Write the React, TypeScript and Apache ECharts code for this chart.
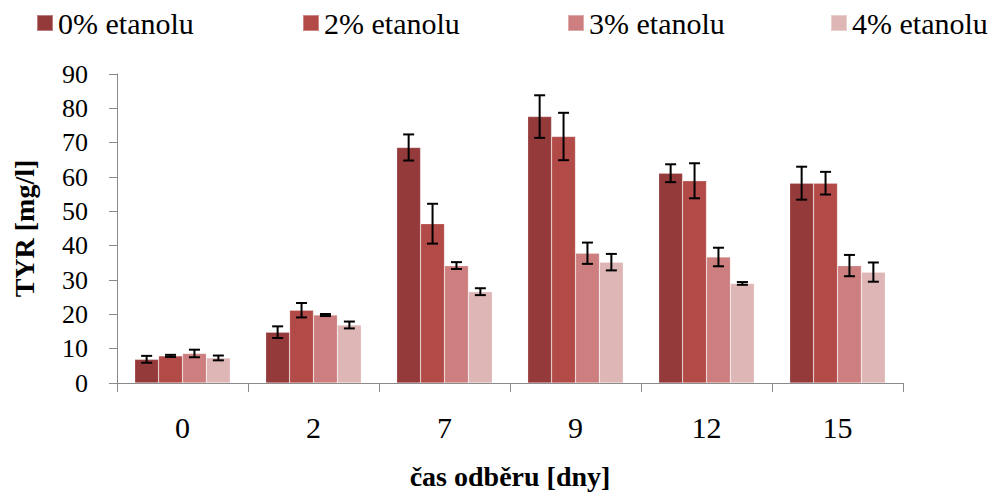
import React, { useEffect, useRef } from "react";
import * as echarts from "echarts";

const days = ["0", "2", "7", "9", "12", "15"];
const seriesNames = ["0% etanolu", "2% etanolu", "3% etanolu", "4% etanolu"];
const colors = ["#953A3A", "#B24A48", "#CC7F7E", "#DFB6B6"];

const tyr0 = [6.9, 14.8, 68.6, 77.6, 61.1, 58.2];
const tyr2 = [7.9, 21.2, 46.4, 71.8, 58.9, 58.2];
const tyr3 = [8.6, 19.8, 34.2, 37.8, 36.7, 34.2];
const tyr4 = [7.3, 16.9, 26.6, 35.2, 29.0, 32.3];

const err0 = [1.0, 1.7, 3.8, 6.2, 2.6, 4.8];
const err2 = [0.3, 2.1, 5.8, 6.9, 5.1, 3.3];
const err3 = [1.1, 0.3, 1.0, 3.1, 2.7, 3.1];
const err4 = [0.7, 1.0, 1.0, 2.4, 0.4, 2.8];

const yTicks = [0, 10, 20, 30, 40, 50, 60, 70, 80, 90];

const values = [tyr0, tyr2, tyr3, tyr4];
const errors = [err0, err2, err3, err4];

const GAP = 0.27;
const FONT = "Liberation Serif";
const W = 995;
const H = 497;
const legendLefts = [36, 302, 567, 830];

export default function App() {
  const ref = useRef<HTMLDivElement>(null);

  useEffect(() => {
    if (!ref.current) return;
    const chart = echarts.init(ref.current, null, { renderer: "svg", width: W, height: H });

    const barSeries = values.map((vals, i) => ({
      name: seriesNames[i],
      type: "bar",
      data: vals,
      barGap: "0%",
      barCategoryGap: GAP * 100 + "%",
      itemStyle: { color: colors[i], borderColor: "rgba(255,255,255,0.35)", borderWidth: 0.6 },
      z: 2,
    }));

    // error bars drawn centred on each bar of the group
    const errSeries = values.map((vals, i) => ({
      name: "err" + i,
      type: "custom",
      z: 5,
      silent: true,
      data: vals.map((v, k) => [k, v, errors[i][k]]),
      renderItem: (params: any, api: any) => {
        const k = api.value(0);
        const v = api.value(1);
        const e = api.value(2);
        const band = api.size([1, 0])[0];
        const bw = (band * (1 - GAP)) / 4;
        const center = api.coord([k, v]);
        const x = center[0] + (i - 1.5) * bw;
        const top = api.coord([k, v + e])[1];
        const bot = api.coord([k, v - e])[1];
        const cap = 5.5;
        const style = { stroke: "#000", lineWidth: 2 };
        return {
          type: "group",
          children: [
            { type: "line", shape: { x1: x, y1: top, x2: x, y2: bot }, style },
            { type: "line", shape: { x1: x - cap, y1: top, x2: x + cap, y2: top }, style },
            { type: "line", shape: { x1: x - cap, y1: bot, x2: x + cap, y2: bot }, style },
          ],
        };
      },
    }));

    const legends = seriesNames.map((name, i) => ({
      data: [name],
      left: legendLefts[i],
      top: 8,
      padding: 0,
      itemWidth: 16,
      itemHeight: 16,
      icon: "rect",
      textStyle: { fontFamily: FONT, fontSize: 30, color: "#000" },
    }));

    chart.setOption({
      animation: false,
      textStyle: { fontFamily: FONT },
      legend: legends,
      grid: { left: 117, right: 92, top: 74, bottom: 114, containLabel: false },
      xAxis: {
        type: "category",
        data: days,
        name: "čas odběru [dny]",
        nameLocation: "middle",
        nameGap: 79,
        nameTextStyle: { fontFamily: FONT, fontSize: 28, fontWeight: "bold", color: "#000" },
        axisLine: { lineStyle: { color: "#898989", width: 1 } },
        axisTick: { show: true, length: 9, alignWithLabel: false, lineStyle: { color: "#898989" } },
        axisLabel: { fontFamily: FONT, fontSize: 30, color: "#000", margin: 29 },
      },
      yAxis: {
        type: "value",
        min: 0,
        max: 90,
        interval: 10,
        name: "TYR [mg/l]",
        nameLocation: "middle",
        nameGap: 79,
        nameTextStyle: { fontFamily: FONT, fontSize: 28, fontWeight: "bold", color: "#000" },
        splitLine: { show: false },
        axisLine: { show: true, lineStyle: { color: "#898989", width: 1 } },
        axisTick: { show: true, length: 8, lineStyle: { color: "#898989" } },
        axisLabel: {
          fontFamily: FONT,
          fontSize: 26,
          color: "#000",
          margin: 29,
          formatter: (v: number) => (yTicks.includes(v) ? String(v) : ""),
        },
      },
      series: [...barSeries, ...errSeries],
    });

    return () => chart.dispose();
  }, []);

  return (
    <div
      ref={ref}
      style={{ position: "fixed", left: 0, top: 0, width: W, height: H, background: "#fff" }}
    />
  );
}
